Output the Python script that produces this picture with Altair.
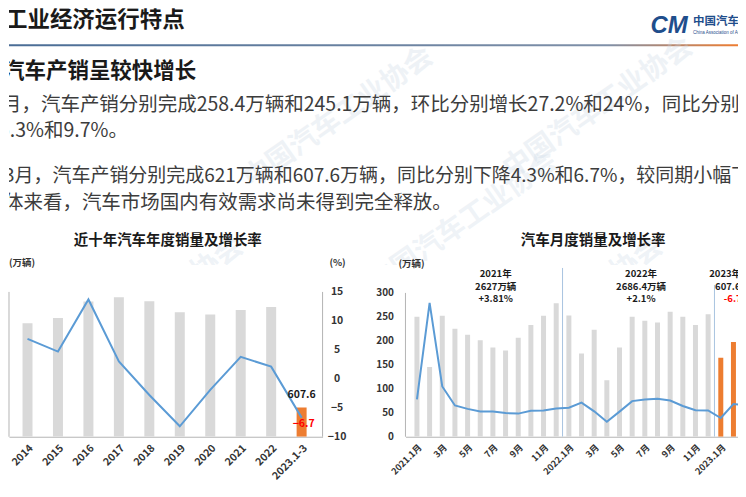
import altair as alt
import pandas as pd

FONT = "Noto Sans CJK SC"
TXT = "#1a1a1a"
BODY = "#3c3c3c"
LBL = "#333333"
AXC = "#b4b4b4"
GRAY = "#d9d9d9"
ORANGE = "#ed7d31"
BLUE = "#5b9bd5"
RED = "#ff0000"
NAVY = "#1f4e8c"

# ---------------- data ----------------
years = ["2014", "2015", "2016", "2017", "2018", "2019", "2020", "2021", "2022", "2023.1-3"]
annual_sales = [2349.2, 2459.8, 2802.8, 2887.9, 2808.1, 2576.9, 2531.1, 2627.5, 2686.4, 607.6]
annual_growth = [6.9, 4.7, 13.7, 3.0, -2.8, -8.2, -1.9, 3.8, 2.1, -6.7]
annual_current = [False] * 9 + [True]

month_labels = ["2021.1月", "2月", "3月", "4月", "5月", "6月", "7月", "8月", "9月", "10月", "11月", "12月",
                "2022.1月", "2月", "3月", "4月", "5月", "6月", "7月", "8月", "9月", "10月", "11月", "12月",
                "2023.1月", "2月", "3月"]
monthly_sales = [250.3, 145.5, 252.6, 225.2, 212.8, 201.5, 186.4, 179.9, 206.7, 233.3, 252.2, 278.6,
                 253.1, 173.7, 223.4, 118.1, 186.2, 250.2, 242.0, 238.3, 261.0, 250.5, 232.9, 255.6,
                 164.9, 197.6, 245.1]
monthly_growth = [29.5, 365.3, 74.9, 8.6, -3.1, -12.4, -11.9, -17.8, -19.6, -9.4, -9.1, -1.6,
                  0.9, 18.7, -11.7, -47.6, -12.6, 23.8, 29.7, 32.1, 25.7, 6.9, -7.9, -8.4,
                  -35.0, 13.5, 9.7]
monthly_current = [False] * 24 + [True] * 3

header_title = "工业经济运行特点"
sub_title = "汽车产销呈较快增长"
body_lines = [
    "月，汽车产销分别完成258.4万辆和245.1万辆，环比分别增长27.2%和24%，同比分别",
    "5.3%和9.7%。",
    "3月，汽车产销分别完成621万辆和607.6万辆，同比分别下降4.3%和6.7%，较同期小幅下",
    "体来看，汽车市场国内有效需求尚未得到完全释放。",
]
left_title = "近十年汽车年度销量及增长率"
right_title = "汽车月度销量及增长率"
unit_left = "(万辆)"
unit_pct = "(%)"
ann_2021 = ["2021年", "2627万辆", "+3.81%"]
ann_2022 = ["2022年", "2686.4万辆", "+2.1%"]
ann_2023 = ["2023年1-3月", "607.6万辆", "-6.7%"]
logo_cn = "中国汽车工业协会"
logo_en = "China Association of Automobile Manufacturers"
watermark = "中国汽车工业协会"


def txt(s, x, y, size, color=TXT, weight="bold", align="left", clip=True, angle=None,
        opacity=None, style=None, font=FONT):
    kw = dict(align=align, baseline="middle", fontSize=size, fontWeight=weight,
              color=color, font=font, clip=clip)
    if angle is not None:
        kw["angle"] = angle
    if opacity is not None:
        kw["opacity"] = opacity
    if style is not None:
        kw["fontStyle"] = style
    return alt.Chart(pd.DataFrame({"t": [s]})).mark_text(**kw).encode(
        x=alt.value(x), y=alt.value(y), text="t:N")


# ---------------- header (slide text) ----------------
gradient = {"gradient": "linear", "x1": 0, "x2": 1, "y1": 0, "y2": 0,
            "stops": [{"offset": 0, "color": "#4a6d96"},
                      {"offset": 0.82, "color": "#7f90a8"},
                      {"offset": 1, "color": "#ee7d31"}]}
header_rule = alt.Chart(pd.DataFrame({"a": [0]})).mark_rect(fill=gradient).encode(
    x=alt.value(0), x2=alt.value(730), y=alt.value(36), y2=alt.value(38))

header_layers = [header_rule]
for (cx, cy) in [(140, 300), (330, 110), (560, 300), (590, 100), (455, 215)]:
    header_layers.append(txt(watermark, cx, cy, 28, color="#c9d6e4", align="center",
                             clip=True, angle=325, opacity=0.3))
header_layers += [
    txt(header_title, -4, 12, 22.5),
    txt(sub_title, -6, 64, 21.5),
    txt(body_lines[0], -7, 97, 19.5, color=BODY, weight="normal"),
    txt(body_lines[1], -10, 123, 19.5, color=BODY, weight="normal"),
    txt(body_lines[2], -5, 168, 19, color=BODY, weight="normal"),
    txt(body_lines[3], -5, 195, 19.5, color=BODY, weight="normal"),
    txt("CM", 661, 18, 24, color=NAVY, align="center", style="italic", font="Liberation Sans"),
    txt(logo_cn, 685, 14, 11.5, color=NAVY),
    txt(logo_en, 685, 25, 4.5, color=NAVY, weight="normal", font="Liberation Sans"),
    txt(left_title, 159, 233, 14.5, align="center"),
    txt(right_title, 585, 233, 14.5, align="center"),
    txt(unit_left, 0, 255, 9.5, color=LBL, clip=False),
    txt(unit_pct, 329, 255, 9.5, color=LBL, align="center", clip=False),
    txt(unit_left, 403, 256, 9.5, color=LBL, align="center", clip=False),
]
header = alt.layer(*header_layers).properties(width=730, height=257)

# ---------------- left chart ----------------
left_df = pd.DataFrame({"idx": list(range(len(years))), "year": years, "sales": annual_sales,
                        "growth": annual_growth, "cur": annual_current})
year_expr = "[" + ",".join("'%s'" % y for y in years) + "][datum.value]"
x_left = alt.X("idx:Q", scale=alt.Scale(domain=[-0.444, 9.524], nice=False, zero=False),
               axis=alt.Axis(values=list(range(len(years))), labelExpr=year_expr, labelAngle=315,
                             labelOverlap=False, ticks=False, grid=False, domainColor=AXC,
                             labelFont=FONT, labelFontSize=10.5, labelFontWeight="bold",
                             labelColor=LBL, labelPadding=6, title=None))
bar_scale_l = alt.Scale(domain=[0, 3558.6], nice=False, zero=False)
g_scale_l = alt.Scale(domain=[-10, 19.655], nice=False, zero=False)

l_bars = alt.Chart(left_df).mark_bar(size=10, clip=True).encode(
    x=x_left, y=alt.Y("sales:Q", scale=bar_scale_l, axis=None),
    color=alt.condition("datum.cur", alt.value(ORANGE), alt.value(GRAY)))
l_line = alt.Chart(left_df).mark_line(color=BLUE, strokeWidth=2).encode(
    x=x_left,
    y=alt.Y("growth:Q", scale=g_scale_l,
            axis=alt.Axis(orient="right", values=[-10, -5, 0, 5, 10, 15], domain=False,
                          ticks=False, grid=False, labelPadding=14, labelAlign="center",
                          labelOverlap=False, labelFont=FONT, labelFontSize=10.5,
                          labelFontWeight="bold", labelColor=LBL, title=None)))
edge = pd.DataFrame({"a": [0]})
l_edge_l = alt.Chart(edge).mark_rule(color=AXC).encode(
    x=alt.value(0), y=alt.YDatum(15, scale=g_scale_l, axis=None), y2=alt.datum(-10))
l_edge_r = alt.Chart(edge).mark_rule(color=AXC).encode(
    x=alt.value(314), y=alt.YDatum(15, scale=g_scale_l, axis=None), y2=alt.datum(-10))
cur_df = left_df[left_df["cur"]]
l_lab_sales = alt.Chart(cur_df).mark_text(dy=-12, fontSize=10.5, fontWeight="bold", color=TXT,
                                          font=FONT).encode(
    x=x_left, y=alt.Y("sales:Q", scale=bar_scale_l, axis=None),
    text=alt.Text("sales:Q", format=".1f"))
l_lab_growth = alt.Chart(cur_df).mark_text(dy=6, dx=2, fontSize=10.5, fontWeight="bold",
                                           color=RED, font=FONT).encode(
    x=x_left, y=alt.Y("growth:Q", scale=g_scale_l, axis=None),
    text=alt.Text("growth:Q", format=".1f"))

left = alt.layer(l_bars, l_edge_l, l_edge_r, l_line, l_lab_sales, l_lab_growth).resolve_scale(
    y="independent").properties(width=314, height=172)

# ---------------- right chart ----------------
right_df = pd.DataFrame({"idx": list(range(len(month_labels))), "m": month_labels,
                         "sales": monthly_sales, "growth": monthly_growth, "cur": monthly_current})
month_expr = "[" + ",".join("'%s'" % m for m in month_labels) + "][datum.value]"
x_scale_r = alt.Scale(domain=[-0.513, 24.965], nice=False, zero=False)
x_axis_r = alt.Axis(values=list(range(0, 25, 2)), labelExpr=month_expr, labelAngle=315,
                    labelOverlap=False, ticks=False, grid=False, domainColor=AXC,
                    labelFont=FONT, labelFontSize=9, labelFontWeight="bold",
                    labelColor=LBL, labelPadding=6, title=None)
x_right = alt.X("idx:Q", scale=x_scale_r, axis=x_axis_r)
bar_scale_r = alt.Scale(domain=[0, 358.33], nice=False, zero=False)
g_scale_r = alt.Scale(domain=[-100, 497.2], nice=False, zero=False)

r_bars = alt.Chart(right_df).mark_bar(size=5, clip=True).encode(
    x=x_right,
    y=alt.Y("sales:Q", scale=bar_scale_r,
            axis=alt.Axis(values=[0, 50, 100, 150, 200, 250, 300], domain=False, ticks=False,
                          grid=False, labelPadding=12, labelOverlap=False, labelFont=FONT,
                          labelFontSize=10, labelFontWeight="bold", labelColor=LBL, title=None)),
    color=alt.condition("datum.cur", alt.value(ORANGE), alt.value(GRAY)))
r_line = alt.Chart(right_df).mark_line(color=BLUE, strokeWidth=2, clip=True).encode(
    x=x_right, y=alt.Y("growth:Q", scale=g_scale_r, axis=None))
r_edge = alt.Chart(edge).mark_rule(color=AXC).encode(
    x=alt.value(0), y=alt.YDatum(300, scale=bar_scale_r, axis=None), y2=alt.datum(0))
sep1 = alt.Chart(edge).mark_rule(color="#a9c4e0", strokeWidth=1, clip=True).encode(
    x=alt.XDatum(11.5, scale=x_scale_r, axis=x_axis_r), y=alt.value(3), y2=alt.value(172))
sep2 = alt.Chart(edge).mark_rule(color="#a9c4e0", strokeWidth=1, clip=True).encode(
    x=alt.XDatum(23.5, scale=x_scale_r, axis=x_axis_r), y=alt.value(20), y2=alt.value(172))


def ann(s, xi, y, color=TXT):
    return alt.Chart(pd.DataFrame({"t": [s]})).mark_text(
        fontSize=9.5, fontWeight="bold", color=color, font=FONT, clip=True, baseline="middle").encode(
        x=alt.XDatum(xi, scale=x_scale_r, axis=x_axis_r), y=alt.value(y), text="t:N")


anns = []
for lines, xi in [(ann_2021, 6.22), (ann_2022, 17.7), (ann_2023, 25.3)]:
    for k, s in enumerate(lines):
        col = RED if (lines is ann_2023 and k == 2) else TXT
        anns.append(ann(s, xi, [9, 22, 34][k], col))

right = alt.layer(r_bars, r_edge, sep1, sep2, r_line, *anns).resolve_scale(
    y="independent").properties(width=333, height=172)

row = alt.hconcat(left, right, spacing=83, bounds="flush")
chart = alt.vconcat(header, row, spacing=0, bounds="flush").properties(
    padding=0, background="white").configure_view(stroke=None)

chart.save("out.html", embed_options={"renderer": "svg", "actions": False})
